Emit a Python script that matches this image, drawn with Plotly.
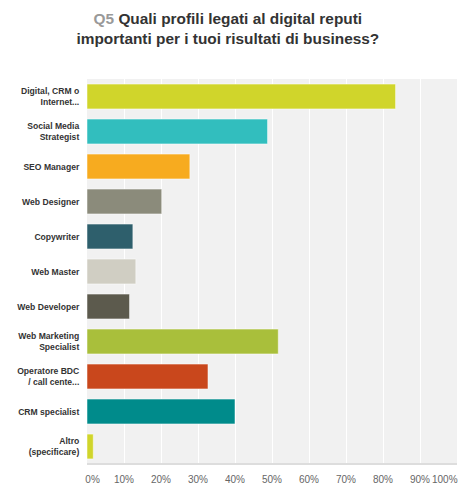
import plotly.graph_objects as go

labels = [
    "Digital, CRM o<br>Internet...",
    "Social Media<br>Strategist",
    "SEO Manager",
    "Web Designer",
    "Copywriter",
    "Web Master",
    "Web Developer",
    "Web Marketing<br>Specialist",
    "Operatore BDC<br>/ call cente...",
    "CRM specialist",
    "Altro<br>(specificare)",
]
values = [83.4, 48.8, 27.8, 20.2, 12.4, 13.2, 11.5, 51.7, 32.7, 40.0, 1.7]
colors = ["#d0d52b", "#32bebe", "#f7ab1f", "#8b8b7b", "#2e5f6c", "#d0cec3",
          "#5c5a4d", "#a9bf3b", "#c9471c", "#008b8b", "#d0d52b"]

tick_vals = list(range(0, 101, 10))
tick_text = [f"{v}%" for v in tick_vals]
# first label sits inside the plot edge in the original, last one is
# right-aligned to the edge (drawn as an annotation below)
tick_text[0] = "\u00a0\u00a0\u00a0\u00a0" + tick_text[0]
last_label = tick_text[-1]
tick_text[-1] = ""

fig = go.Figure(go.Bar(
    x=values,
    y=labels,
    orientation="h",
    marker=dict(color=colors, line=dict(color="rgba(255,255,255,0.5)", width=1)),
    hoverinfo="x+y",
))

# page body keeps its default 8px margin, so the figure is a bit smaller
fig.update_layout(
    width=459, height=492,
    margin=dict(l=79, r=10, t=71, b=36),
    paper_bgcolor="white",
    plot_bgcolor="#f1f1f1",
    showlegend=False,
    bargap=0.29,
    font=dict(family="Liberation Sans, Arial, sans-serif"),
    title=dict(
        text="<span style='color:#999999'>Q5</span> Quali profili legati al digital reputi<br>importanti per i tuoi risultati di business?",
        x=0.479, xanchor="center", yref="container", y=0.967, yanchor="middle",
        font=dict(size=15.4, color="#333333", weight="bold"),
    ),
    xaxis=dict(
        range=[0, 100], tickvals=tick_vals, ticktext=tick_text,
        showgrid=True, gridcolor="white", gridwidth=1,
        zeroline=False, showline=False, automargin=False,
        tickfont=dict(size=10, color="#666666"), tickangle=0,
        ticks="outside", ticklen=6, tickcolor="rgba(0,0,0,0)",
    ),
    yaxis=dict(
        autorange="reversed", showgrid=False, zeroline=False, automargin=False,
        tickfont=dict(size=8.6, color="#333333", weight="bold"),
        ticks="outside", ticklen=5, tickcolor="rgba(0,0,0,0)",
    ),
    shapes=[dict(type="line", xref="paper", yref="paper", x0=0, x1=1, y0=0, y1=0,
                 line=dict(color="#dddddd", width=2))],
    annotations=[dict(
        text=last_label, xref="x", x=tick_vals[-1], xanchor="right",
        yref="paper", y=0, yanchor="top", yshift=-8, xshift=3, showarrow=False,
        font=dict(size=10, color="#666666"),
    )],
)

fig.write_html("out.html")
